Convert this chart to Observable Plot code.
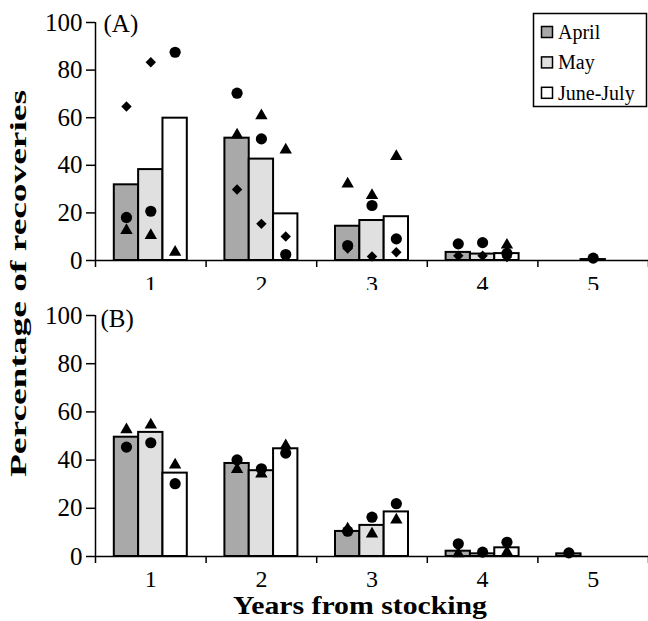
<!DOCTYPE html>
<html>
<head>
<meta charset="utf-8">
<script src="https://cdn.jsdelivr.net/npm/d3@7"></script>
<script src="https://cdn.jsdelivr.net/npm/@observablehq/plot@0.6"></script>
<style>
  html, body { margin: 0; padding: 0; background: white; }
  #wrap { position: relative; width: 648px; height: 621px; overflow: hidden; background: white; }
  #pa { position: absolute; left: 0; top: 0; }
  #pb { position: absolute; left: 0; top: 290px; }
  #ov { position: absolute; left: 0; top: 0; pointer-events: none; }
</style>
</head>
<body>
<div id="wrap">
  <div id="pa"></div>
  <div id="pb"></div>
  <svg id="ov" width="648" height="621"></svg>
</div>
<script>
// ---- data ----
const years = [1, 2, 3, 4, 5];
const months = ["April", "May", "June-July"];
const monthColors = ["#a9a9a9", "#e0e0e0", "#ffffff"];
const yTicks = [0, 20, 40, 60, 80, 100];
const yearBoundaries = [0.5, 1.5, 2.5, 3.5, 4.5, 5.5];

// Panel A bar heights (by year 1..5)
const aApril = [31.8, 51.4, 14.4, 3.4, null];
const aMay   = [38.2, 42.6, 16.8, 2.7, 0.4];
const aJune  = [59.8, 19.6, 18.4, 2.9, null];
// Panel B bar heights
const bApril = [49.5, 38.6, 10.4, 2.2, 1.1];
const bMay   = [51.5, 35.6, 12.9, 1.1, null];
const bJune  = [34.6, 44.7, 18.5, 3.6, null];

// Panel A points: [year][April, May, June-July]
const aCircle   = [[18.1, 20.7, 87.5], [70.3, 51.1, 2.5], [6.3, 23.1, 9.1], [7.0, 7.5, 3.0], [null, 1.0, null]];
const aTriangle = [[12.6, 10.5, 3.5], [52.8, 60.9, 46.5], [32.2, 27.3, 43.7], [null, null, 6.5], [null, null, null]];
const aDiamond  = [[64.7, 83.3, null], [29.8, 15.4, 10.1], [5.0, 1.7, 3.5], [2.0, 2.0, 1.5], [null, null, null]];
// Panel B points
const bCircle   = [[45.4, 47.2, 30.2], [40.1, 36.4, 42.9], [10.5, 16.3, 21.9], [5.3, 1.8, 5.9], [1.5, null, null]];
const bTriangle = [[52.6, 54.6, 38.0], [36.1, 34.3, 46.0], [11.5, 9.4, 15.2], [1.2, null, 1.8], [null, null, null]];

const FONT = "'Liberation Serif', 'Times New Roman', serif";

// ---- helpers ----
const barW = 0.22;
function barRows(arrs) {
  return years.flatMap((y, i) => months.map((m, j) => ({year: y, month: m, j, value: arrs[j][i]})))
    .filter(d => d.value != null);
}
function pointRows(arr) {
  return years.flatMap((y, i) => months.map((m, j) => ({year: y, month: m, j, value: arr[i][j]})))
    .filter(d => d.value != null);
}
const px = d => d.year + (d.j - 1) * barW;

function panel(bars, pts, label, o) {
  const dots = pts.map(p => Plot.dot(pointRows(p.data), {x: px, y: "value", symbol: p.symbol, r: p.r, fill: "black", stroke: "none"}));
  return Plot.plot({
    width: 648, height: o.height,
    marginLeft: 95, marginRight: 0, marginTop: o.mt, marginBottom: o.mb,
    style: {fontFamily: FONT, fontSize: "25px", color: "black", background: "white", overflow: "visible"},
    x: {type: "linear", domain: [0.5, 5.5], label: null},
    y: {domain: [0, 100], label: null},
    color: {domain: months, range: monthColors},
    marks: [
      Plot.rectY(barRows(bars), {x1: d => d.year + (d.j - 1.5) * barW, x2: d => d.year + (d.j - 0.5) * barW, y: "value", fill: "month", stroke: "black", strokeWidth: 2}),
      ...dots,
      Plot.ruleY([0], {stroke: "black", strokeWidth: 1.5}),
      Plot.ruleX([0.5], {y1: 0, y2: 100, stroke: "black", strokeWidth: 1.5}),
      Plot.axisY({ticks: yTicks, tickSize: 9, tickPadding: 4, tickFormat: d => String(d), label: null, fontSize: 25, strokeWidth: 1.5}),
      Plot.axisX({ticks: yearBoundaries, tickSize: 7, tickFormat: () => "", label: null, strokeWidth: 1.5}),
      Plot.axisX({ticks: years, tickSize: 0, tickPadding: o.tp, tickFormat: d => String(d), label: null, fontSize: 24}),
      Plot.text([label], {frameAnchor: "top-left", dx: o.ldx, dy: o.ldy, lineAnchor: "middle", textAnchor: "start", fontSize: 25})
    ]
  });
}

document.getElementById("pa").append(panel([aApril, aMay, aJune], [
  {data: aCircle, symbol: "circle", r: 5.6},
  {data: aTriangle, symbol: "triangle", r: 4.6},
  {data: aDiamond, symbol: "diamond2", r: 4.7}
], "(A)", {height: 290, mt: 22, mb: 30, tp: 14, ldx: 8, ldy: 1}));

document.getElementById("pb").append(panel([bApril, bMay, bJune], [
  {data: bCircle, symbol: "circle", r: 5.6},
  {data: bTriangle, symbol: "triangle", r: 4.6}
], "(B)", {height: 331, mt: 25, mb: 65, tp: 13, ldx: 5, ldy: 3}));

// ---- titles & legend ----
const ov = d3.select("#ov");
ov.append("text")
  .attr("transform", "translate(26,283.5) rotate(-90)")
  .attr("text-anchor", "middle")
  .attr("font-family", FONT)
  .attr("font-weight", "bold").attr("font-size", 24)
  .attr("textLength", 387).attr("lengthAdjust", "spacingAndGlyphs")
  .text("Percentage of recoveries");
ov.append("text")
  .attr("x", 360).attr("y", 614)
  .attr("text-anchor", "middle")
  .attr("font-family", FONT)
  .attr("font-weight", "bold").attr("font-size", 25)
  .attr("textLength", 254).attr("lengthAdjust", "spacingAndGlyphs")
  .text("Years from stocking");

const lg = ov.append("g");
lg.append("rect").attr("x", 533.5).attr("y", 13.5).attr("width", 113).attr("height", 93)
  .attr("fill", "white").attr("stroke", "black").attr("stroke-width", 1.5);
months.forEach((m, i) => {
  const cy = 32 + i * 30.4;
  lg.append("rect").attr("x", 541.5).attr("y", cy - 5.5).attr("width", 11).attr("height", 11)
    .attr("fill", monthColors[i]).attr("stroke", "black").attr("stroke-width", 1.5);
  lg.append("text").attr("x", 558).attr("y", cy).attr("dy", "0.35em")
    .attr("font-family", FONT).attr("font-size", 20)
    .text(m);
});
</script>
</body>
</html>
